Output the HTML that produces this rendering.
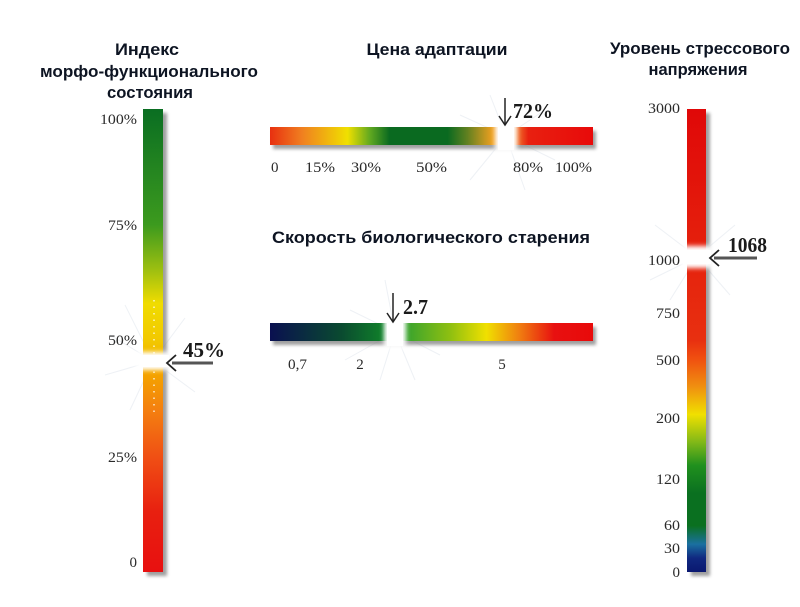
<!DOCTYPE html>
<html><head><meta charset="utf-8"><style>
html,body{margin:0;padding:0;background:#fff;}
svg{display:block;}
.t{font-family:"Liberation Sans","DejaVu Sans",sans-serif;font-weight:bold;fill:#0d1422;}
.s{font-family:"Liberation Serif",serif;fill:#2a2a2a;font-size:15px;}
.b{font-family:"Liberation Serif",serif;font-weight:bold;fill:#1a1a1a;font-size:21px;}
</style></head><body>
<svg width="800" height="607" viewBox="0 0 800 607" xmlns="http://www.w3.org/2000/svg">
<defs>
<filter id="bl" x="-50%" y="-50%" width="200%" height="200%"><feGaussianBlur stdDeviation="2.5"/></filter>
<filter id="sh" x="-50%" y="-50%" width="200%" height="200%"><feGaussianBlur stdDeviation="1.6"/></filter>
<linearGradient id="gL" x1="0" y1="0" x2="0" y2="1">
<stop offset="0" stop-color="#0a6e22"/><stop offset="0.25" stop-color="#3c9a1e"/>
<stop offset="0.35" stop-color="#a0c010"/><stop offset="0.42" stop-color="#f0dc00"/>
<stop offset="0.5" stop-color="#f2c800"/><stop offset="0.58" stop-color="#f4a000"/>
<stop offset="0.65" stop-color="#f48010"/><stop offset="0.75" stop-color="#f05014"/>
<stop offset="0.87" stop-color="#e82010"/><stop offset="1" stop-color="#e81010"/>
</linearGradient>
<linearGradient id="gT" x1="0" y1="0" x2="1" y2="0">
<stop offset="0" stop-color="#e83010"/><stop offset="0.1" stop-color="#f08020"/>
<stop offset="0.24" stop-color="#f0e000"/><stop offset="0.31" stop-color="#60a820"/>
<stop offset="0.37" stop-color="#0a6a20"/><stop offset="0.55" stop-color="#0a6a20"/>
<stop offset="0.61" stop-color="#608020"/><stop offset="0.69" stop-color="#f0a020"/>
<stop offset="0.76" stop-color="#f08030"/><stop offset="0.8" stop-color="#e82010"/>
<stop offset="1" stop-color="#e80a0a"/>
</linearGradient>
<linearGradient id="gB" x1="0" y1="0" x2="1" y2="0">
<stop offset="0" stop-color="#0a1050"/><stop offset="0.22" stop-color="#0a4a30"/>
<stop offset="0.35" stop-color="#10802a"/><stop offset="0.41" stop-color="#30a030"/>
<stop offset="0.56" stop-color="#90c010"/><stop offset="0.67" stop-color="#f0e000"/>
<stop offset="0.77" stop-color="#f08010"/><stop offset="0.88" stop-color="#e81010"/>
<stop offset="1" stop-color="#e80a0a"/>
</linearGradient>
<linearGradient id="gR" x1="0" y1="0" x2="0" y2="1">
<stop offset="0" stop-color="#e00808"/><stop offset="0.5" stop-color="#e83010"/>
<stop offset="0.54" stop-color="#f05010"/><stop offset="0.6" stop-color="#f09010"/>
<stop offset="0.66" stop-color="#f0e000"/><stop offset="0.72" stop-color="#80b818"/>
<stop offset="0.77" stop-color="#20901e"/><stop offset="0.83" stop-color="#0a7020"/>
<stop offset="0.9" stop-color="#0a7020"/><stop offset="0.94" stop-color="#1a70a0"/>
<stop offset="0.97" stop-color="#102880"/><stop offset="1" stop-color="#0a1870"/>
</linearGradient>
</defs>

<!-- Titles -->
<text class="t" x="147" y="55" font-size="17" text-anchor="middle" textLength="64" lengthAdjust="spacingAndGlyphs">Индекс</text>
<text class="t" x="149" y="77" font-size="17" text-anchor="middle" textLength="218" lengthAdjust="spacingAndGlyphs">морфо-функционального</text>
<text class="t" x="150" y="98" font-size="17" text-anchor="middle" textLength="86" lengthAdjust="spacingAndGlyphs">состояния</text>
<text class="t" x="437" y="55" font-size="17" text-anchor="middle" textLength="141" lengthAdjust="spacingAndGlyphs">Цена адаптации</text>
<text class="t" x="431" y="243" font-size="17" text-anchor="middle" textLength="318" lengthAdjust="spacingAndGlyphs">Скорость биологического старения</text>
<text class="t" x="700" y="54" font-size="17" text-anchor="middle" textLength="180" lengthAdjust="spacingAndGlyphs">Уровень стрессового</text>
<text class="t" x="698" y="75" font-size="17" text-anchor="middle" textLength="99" lengthAdjust="spacingAndGlyphs">напряжения</text>

<!-- rays -->
<g stroke="#eef1f5" stroke-width="1">
<line x1="153" y1="361" x2="110" y2="335"/><line x1="153" y1="361" x2="105" y2="375"/>
<line x1="153" y1="361" x2="130" y2="410"/><line x1="153" y1="361" x2="195" y2="392"/>
<line x1="153" y1="361" x2="185" y2="318"/><line x1="153" y1="361" x2="125" y2="305"/>
<line x1="506" y1="136" x2="545" y2="110"/><line x1="506" y1="136" x2="555" y2="160"/>
<line x1="506" y1="136" x2="525" y2="190"/><line x1="506" y1="136" x2="470" y2="180"/>
<line x1="506" y1="136" x2="460" y2="115"/><line x1="506" y1="136" x2="490" y2="95"/>
<line x1="395" y1="332" x2="350" y2="310"/><line x1="395" y1="332" x2="345" y2="360"/>
<line x1="395" y1="332" x2="380" y2="380"/><line x1="395" y1="332" x2="415" y2="380"/>
<line x1="395" y1="332" x2="440" y2="355"/><line x1="395" y1="332" x2="385" y2="280"/>
<line x1="697" y1="257" x2="655" y2="225"/><line x1="697" y1="257" x2="650" y2="280"/>
<line x1="697" y1="257" x2="730" y2="295"/><line x1="697" y1="257" x2="735" y2="225"/>
<line x1="697" y1="257" x2="670" y2="300"/>
</g>

<!-- Left bar -->
<rect x="147" y="113" width="20" height="463" fill="#777" opacity="0.7" filter="url(#sh)"/>
<rect x="143" y="109" width="20" height="463" fill="url(#gL)"/>
<rect x="136" y="352" width="34" height="18" fill="#fff" filter="url(#bl)"/>
<rect x="139" y="355" width="30" height="12" fill="#fff"/>
<line x1="154" y1="300" x2="154" y2="412" stroke="#fff" stroke-width="1.5" stroke-dasharray="1.5 5" opacity="0.8"/>
<line x1="172" y1="363" x2="213" y2="363" stroke="#555" stroke-width="3"/>
<polyline points="176,355 167,363 176,371" fill="none" stroke="#222" stroke-width="1.8"/>
<text class="b" x="183" y="357" textLength="42" lengthAdjust="spacingAndGlyphs">45%</text>
<text class="s" x="137" y="124" text-anchor="end" textLength="37" lengthAdjust="spacingAndGlyphs">100%</text>
<text class="s" x="137" y="230" text-anchor="end" textLength="29" lengthAdjust="spacingAndGlyphs">75%</text>
<text class="s" x="137" y="345" text-anchor="end" textLength="29" lengthAdjust="spacingAndGlyphs">50%</text>
<text class="s" x="137" y="462" text-anchor="end" textLength="29" lengthAdjust="spacingAndGlyphs">25%</text>
<text class="s" x="137" y="567" text-anchor="end">0</text>

<!-- Top center bar -->
<rect x="273" y="131" width="323" height="18" fill="#777" opacity="0.7" filter="url(#sh)"/>
<rect x="270" y="127" width="323" height="18" fill="url(#gT)"/>
<rect x="495" y="120" width="22" height="32" fill="#fff" filter="url(#bl)"/>
<rect x="498" y="122" width="16" height="28" fill="#fff"/>
<line x1="505" y1="98" x2="505" y2="124" stroke="#222" stroke-width="1.5"/>
<polyline points="499,116 505,125 511,116" fill="none" stroke="#222" stroke-width="1.5"/>
<text class="b" x="513" y="118" textLength="40" lengthAdjust="spacingAndGlyphs">72%</text>
<text class="s" x="271" y="172">0</text>
<text class="s" x="305" y="172" textLength="30" lengthAdjust="spacingAndGlyphs">15%</text>
<text class="s" x="351" y="172" textLength="30" lengthAdjust="spacingAndGlyphs">30%</text>
<text class="s" x="416" y="172" textLength="31" lengthAdjust="spacingAndGlyphs">50%</text>
<text class="s" x="513" y="172" textLength="30" lengthAdjust="spacingAndGlyphs">80%</text>
<text class="s" x="555" y="172" textLength="37" lengthAdjust="spacingAndGlyphs">100%</text>

<!-- Bottom center bar -->
<rect x="273" y="327" width="323" height="18" fill="#777" opacity="0.7" filter="url(#sh)"/>
<rect x="270" y="323" width="323" height="18" fill="url(#gB)"/>
<rect x="384" y="316" width="22" height="32" fill="#fff" filter="url(#bl)"/>
<rect x="387" y="318" width="16" height="28" fill="#fff"/>
<line x1="393" y1="293" x2="393" y2="321" stroke="#222" stroke-width="1.5"/>
<polyline points="387,313 393,322 399,313" fill="none" stroke="#222" stroke-width="1.5"/>
<text class="b" x="403" y="314" font-size="19" textLength="25" lengthAdjust="spacingAndGlyphs">2.7</text>
<text class="s" x="288" y="369" textLength="19" lengthAdjust="spacingAndGlyphs">0,7</text>
<text class="s" x="360" y="369" text-anchor="middle">2</text>
<text class="s" x="502" y="369" text-anchor="middle">5</text>

<!-- Right bar -->
<rect x="691" y="113" width="19" height="463" fill="#777" opacity="0.7" filter="url(#sh)"/>
<rect x="687" y="109" width="19" height="463" fill="url(#gR)"/>
<rect x="681" y="246" width="32" height="22" fill="#fff" filter="url(#bl)"/>
<rect x="683" y="250" width="28" height="14" fill="#fff"/>
<line x1="714" y1="258" x2="757" y2="258" stroke="#555" stroke-width="3"/>
<polyline points="719,250 710,258 719,266" fill="none" stroke="#222" stroke-width="1.8"/>
<text class="b" x="728" y="252" font-size="19" textLength="39" lengthAdjust="spacingAndGlyphs">1068</text>
<text class="s" x="680" y="113" text-anchor="end" textLength="32" lengthAdjust="spacingAndGlyphs">3000</text>
<text class="s" x="680" y="265" text-anchor="end" textLength="32" lengthAdjust="spacingAndGlyphs">1000</text>
<text class="s" x="680" y="318" text-anchor="end" textLength="24" lengthAdjust="spacingAndGlyphs">750</text>
<text class="s" x="680" y="365" text-anchor="end" textLength="24" lengthAdjust="spacingAndGlyphs">500</text>
<text class="s" x="680" y="423" text-anchor="end" textLength="24" lengthAdjust="spacingAndGlyphs">200</text>
<text class="s" x="680" y="484" text-anchor="end" textLength="24" lengthAdjust="spacingAndGlyphs">120</text>
<text class="s" x="680" y="530" text-anchor="end" textLength="16" lengthAdjust="spacingAndGlyphs">60</text>
<text class="s" x="680" y="553" text-anchor="end" textLength="16" lengthAdjust="spacingAndGlyphs">30</text>
<text class="s" x="680" y="577" text-anchor="end">0</text>
</svg>
</body></html>
